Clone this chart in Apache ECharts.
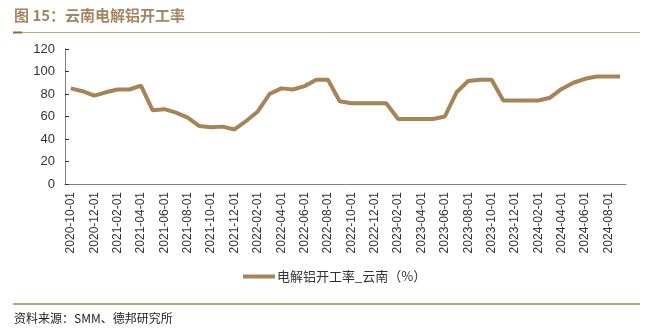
<!DOCTYPE html>
<html>
<head>
<meta charset="utf-8">
<script src="https://cdn.jsdelivr.net/npm/echarts@6/dist/echarts.min.js"></script>
<style>
html,body{margin:0;padding:0;background:#fff;}
#chart{width:654px;height:330px;}
</style>
</head>
<body>
<div id="chart"></div>
<script>
var seriesName = '电解铝开工率_云南（%）';
var months = [
'2020-10-01','2020-11-01','2020-12-01','2021-01-01','2021-02-01','2021-03-01','2021-04-01','2021-05-01',
'2021-06-01','2021-07-01','2021-08-01','2021-09-01','2021-10-01','2021-11-01','2021-12-01','2022-01-01',
'2022-02-01','2022-03-01','2022-04-01','2022-05-01','2022-06-01','2022-07-01','2022-08-01','2022-09-01',
'2022-10-01','2022-11-01','2022-12-01','2023-01-01','2023-02-01','2023-03-01','2023-04-01','2023-05-01',
'2023-06-01','2023-07-01','2023-08-01','2023-09-01','2023-10-01','2023-11-01','2023-12-01','2024-01-01',
'2024-02-01','2024-03-01','2024-04-01','2024-05-01','2024-06-01','2024-07-01','2024-08-01','2024-09-01'
];
var values = [
85, 82.5, 78.5, 81.5, 84, 84, 87.5, 65.5,
66.5, 63.5, 59, 51.5, 50.5, 51, 48.5, 56,
64.5, 80, 85, 84, 87, 92.7, 92.7, 73.5,
71.7, 71.7, 71.7, 71.7, 57.8, 57.8, 57.8, 57.8,
60, 81.5, 91.5, 92.7, 92.7, 74.2, 74.2, 74.2,
74.2, 76.7, 84.5, 90, 93.5, 95.5, 95.5, 95.5
];
var yTicks = [0, 20, 40, 60, 80, 100, 120];

var lineColor = '#a88356';
var chart = echarts.init(document.getElementById('chart'));
chart.setOption({
  animation: false,
  textStyle: {fontFamily: 'Liberation Sans, Arial, sans-serif'},
  grid: {left: 65, right: 28, top: 49, bottom: 146, containLabel: false},
  xAxis: {
    type: 'category',
    data: months,
    boundaryGap: true,
    axisLine: {lineStyle: {color: '#808080', width: 1}},
    axisTick: {inside: true, interval: 1, length: 4, lineStyle: {color: '#333'}},
    axisLabel: {interval: 1, rotate: 90, color: '#333', fontSize: 12, margin: 8},
    splitLine: {show: false}
  },
  yAxis: {
    type: 'value',
    min: yTicks[0],
    max: yTicks[yTicks.length - 1],
    interval: 20,
    axisLine: {show: true, lineStyle: {color: '#808080', width: 1}},
    axisTick: {show: true, inside: true, length: 4, lineStyle: {color: '#333'}},
    axisLabel: {color: '#333', fontSize: 13, margin: 10},
    splitLine: {show: false}
  },
  legend: {
    show: true,
    bottom: 42,
    left: 238,
    itemWidth: 32,
    itemHeight: 4,
    itemGap: 4,
    icon: 'rect',
    textStyle: {color: '#333', fontSize: 13, fontFamily: 'Noto Sans CJK SC', padding: [0,0,0,-3]},
    data: [seriesName]
  },
  series: [{
    name: seriesName,
    type: 'line',
    data: values,
    symbol: 'none',
    lineStyle: {color: lineColor, width: 4},
    itemStyle: {color: lineColor}
  }],
  graphic: [
    {type: 'text', left: 14, top: 8, style: {text: '图 15：云南电解铝开工率', fill: '#a58561', font: 'bold 15px "Noto Sans CJK SC"'}},
    {type: 'line', shape: {x1: 13, y1: 32.5, x2: 640, y2: 32.5}, style: {stroke: '#c0a585', lineWidth: 1}},
    {type: 'line', shape: {x1: 13, y1: 32.5, x2: 22, y2: 32.5}, style: {stroke: '#8c6a45', lineWidth: 2}},
    {type: 'line', shape: {x1: 13, y1: 304, x2: 640, y2: 304}, style: {stroke: '#a88356', lineWidth: 1.5}},
    {type: 'text', left: 14, top: 312, style: {text: '资料来源：SMM、德邦研究所', fill: '#222', font: '12px "Noto Sans CJK SC"'}}
  ]
});
</script>
</body>
</html>
